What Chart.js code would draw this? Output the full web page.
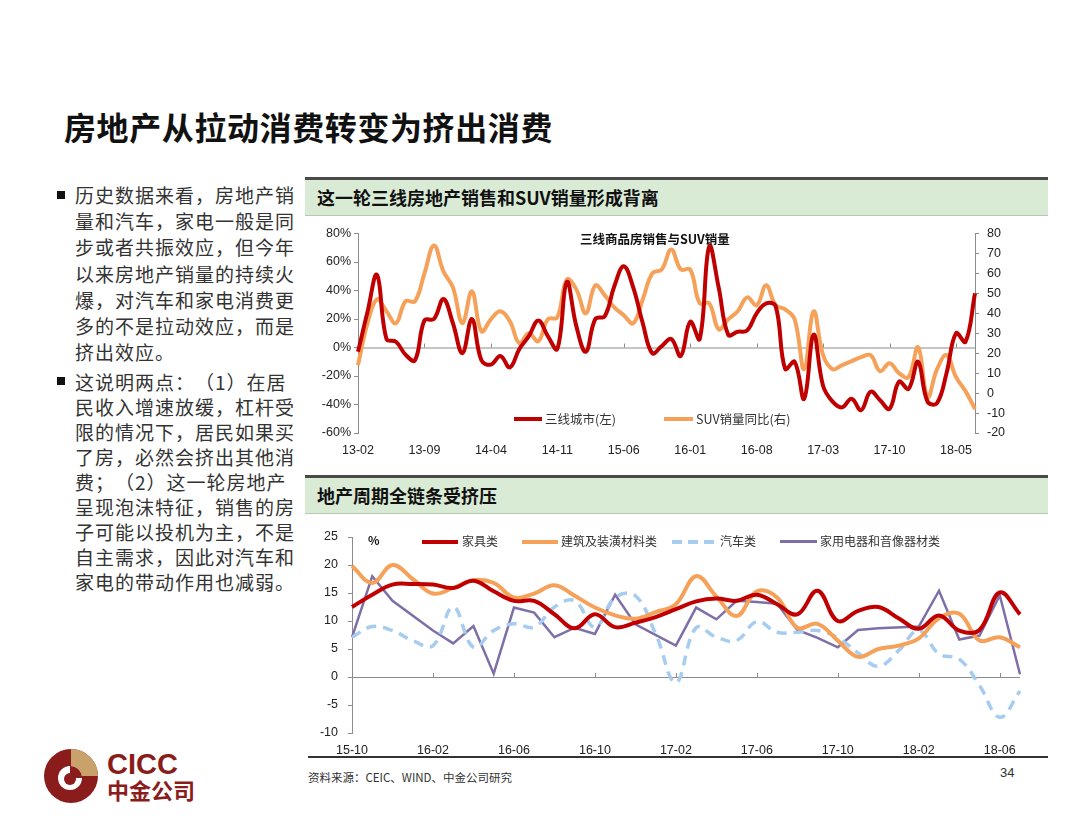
<!DOCTYPE html>
<html lang="zh">
<head>
<meta charset="utf-8">
<title>房地产从拉动消费转变为挤出消费</title>
<script src="https://cdn.jsdelivr.net/npm/chart.js@4.4.1/dist/chart.umd.min.js"></script>
<style>
  html, body { margin: 0; padding: 0; background: #fff; }
  body { width: 1080px; height: 834px; position: relative; overflow: hidden;
         font-family: "Noto Sans CJK SC", sans-serif; color: #222; text-spacing-trim: space-all; }
  .abs { position: absolute; white-space: nowrap; }
  #title { left: 64px; top: 108px; font-size: 32px; line-height: 36px; font-weight: 700; letter-spacing: 0.6px; color: #111; }
  .para { left: 75px; font-size: 19px; letter-spacing: 1px; color: #333; }
  .bullet { width: 8px; height: 8px; background: #111; }
  .bar { left: 305px; width: 743px; height: 39px; box-sizing: border-box; background: #d9ebd5;
         border-top: 3px solid #4a4a4a; border-bottom: 1px solid #b5c8b1;
         padding-left: 12px; font-size: 18px; font-weight: 700; line-height: 35px; color: #111; }
  canvas { position: absolute; }
  .lg { font-size: 12.5px; line-height: 14px; color: #333; }
  .swatch { height: 4px; }
</style>
</head>
<body>

<div id="title" class="abs">房地产从拉动消费转变为挤出消费</div>

<div class="abs bullet" style="left:57px; top:191px;"></div>
<div class="abs para" style="top:182px; line-height:26.2px;">历史数据来看，房地产销<br>量和汽车，家电一般是同<br>步或者共振效应，但今年<br>以来房地产销量的持续火<br>爆，对汽车和家电消费更<br>多的不是拉动效应，而是<br>挤出效应。</div>

<div class="abs bullet" style="left:57px; top:377px;"></div>
<div class="abs para" style="top:368.5px; line-height:25px;">这说明两点：（1）在居<br>民收入增速放缓，杠杆受<br>限的情况下，居民如果买<br>了房，必然会挤出其他消<br>费；（2）这一轮房地产<br>呈现泡沫特征，销售的房<br>子可能以投机为主，不是<br>自主需求，因此对汽车和<br>家电的带动作用也减弱。</div>

<div class="abs bar" style="top:177px;">这一轮三线房地产销售和SUV销量形成背离</div>
<div class="abs bar" style="top:475px;">地产周期全链条受挤压</div>

<canvas id="chart1" width="743" height="244" style="left:305px; top:218px;"></canvas>
<canvas id="chart2" width="743" height="237" style="left:305px; top:518px;"></canvas>

<!-- chart 1 inner title and legend -->
<div class="abs" style="left:580px; top:229px; font-size:12.5px; font-weight:700; color:#111;">三线商品房销售与SUV销量</div>
<div class="abs swatch" style="left:514px; top:417px; width:28px; background:#c00000;"></div>
<div class="abs lg" style="left:545px; top:412px;">三线城市(左)</div>
<div class="abs swatch" style="left:664px; top:417px; width:29px; background:#f6a15a;"></div>
<div class="abs lg" style="left:696px; top:412px;">SUV销量同比(右)</div>

<!-- chart 2 unit and legend -->
<div class="abs" style="left:368px; top:531px; font-size:12px; font-weight:700; color:#111;">%</div>
<div class="abs swatch" style="left:422px; top:540px; width:36px; background:#c00000;"></div>
<div class="abs lg" style="left:462px; top:534px; font-size:12px;">家具类</div>
<div class="abs swatch" style="left:522px; top:540px; width:36px; background:#f6a15a;"></div>
<div class="abs lg" style="left:561px; top:534px; font-size:12px;">建筑及装潢材料类</div>
<div class="abs swatch" style="left:672px; top:540px; width:44px; height:3.5px; background:repeating-linear-gradient(to right, #a6cdef 0 10px, transparent 10px 16px);"></div>
<div class="abs lg" style="left:720px; top:534px; font-size:12px;">汽车类</div>
<div class="abs swatch" style="left:780px; top:540px; width:37px; height:2.5px; background:#7e6fa8;"></div>
<div class="abs lg" style="left:820px; top:534px; font-size:12px;">家用电器和音像器材类</div>

<div class="abs" style="left:308px; top:756px; width:740px; height:2px; background:#333;"></div>
<div class="abs" style="left:308px; top:769px; font-size:11.5px; color:#333;">资料来源：CEIC、WIND、中金公司研究</div>
<div class="abs" style="left:1000px; top:765px; font-size:13px; color:#333; font-family:'Liberation Sans', Arial, sans-serif;">34</div>

<!-- CICC logo -->
<svg class="abs" style="left:43px; top:748px;" width="56" height="56" viewBox="0 0 56 56">
  <circle cx="28" cy="28" r="27" fill="#8b1c1c"/>
  <path d="M28,28 L28,1 A27,27 0 0,1 55,28 Z" fill="#c9a16a"/>
  <circle cx="27" cy="30" r="12" fill="#fff"/>
  <path d="M27,30 L27,18 A12,12 0 0,1 39,30 Z" fill="#8b1c1c"/>
  <circle cx="27" cy="31" r="6" fill="#8b1c1c"/>
</svg>
<div class="abs" style="left:107px; top:750px; font-family:'Liberation Sans', Arial, sans-serif; font-size:29px; line-height:29px; font-weight:700; color:#8b1c1c;">CICC</div>
<div class="abs" style="left:107px; top:777px; font-size:22px; line-height:24px; font-weight:700; color:#8b1c1c;">中金公司</div>

<script>
// ---- chart 1: 三线商品房销售与SUV销量 (monthly, 13-02 .. 18-07)
const months1 = [
  '13-02','13-03','13-04','13-05','13-06','13-07','13-08','13-09','13-10','13-11','13-12',
  '14-01','14-02','14-03','14-04','14-05','14-06','14-07','14-08','14-09','14-10','14-11','14-12',
  '15-01','15-02','15-03','15-04','15-05','15-06','15-07','15-08','15-09','15-10','15-11','15-12',
  '16-01','16-02','16-03','16-04','16-05','16-06','16-07','16-08','16-09','16-10','16-11','16-12',
  '17-01','17-02','17-03','17-04','17-05','17-06','17-07','17-08','17-09','17-10','17-11','17-12',
  '18-01','18-02','18-03','18-04','18-05','18-06','18-07'
];
// 三线城市 (left axis, %)
const tier3Sales = [
  -3, 25, 51, 6, 4, -5, -9, 19, 20, 34, 17,
  -4, 20, -9, -12, -6, -14, -1, 8, 19, 8, -1, 46,
  15, -3, 20, 22, 43, 57, 42, 17, -4, 1, 6, -6,
  18, 6, 71, 42, 9, 11, 12, 24, 31, 29, -15, -10,
  -36, 9, -27, -38, -42, -36, -44, -31, -37, -43, -24, -29,
  -10, -38, -39, -18, 10, 4, 38
];
// SUV销量同比 (right axis)
const suvSales = [
  14, 35, 47, 41, 35, 46, 46, 60, 74, 61, 53,
  35, 51, 31, 37, 41, 36, 25, 30, 26, 37, 38, 57,
  52, 40, 54, 49, 43, 39, 35, 47, 60, 62, 72, 62,
  62, 45, 45, 32, 37, 41, 48, 44, 54, 44, 42, 37,
  12, 41, 19, 12, 14, 16, 18, 19, 11, 15, 10, 8,
  23, -2, 12, 19, 8, 1, -8
];

// ---- chart 2: 地产周期全链条受挤压 (monthly, 15-10 .. 18-07)
const months2 = [
  '15-10','15-11','15-12',
  '16-01','16-02','16-03','16-04','16-05','16-06','16-07','16-08','16-09','16-10','16-11','16-12',
  '17-01','17-02','17-03','17-04','17-05','17-06','17-07','17-08','17-09','17-10','17-11','17-12',
  '18-01','18-02','18-03','18-04','18-05','18-06','18-07'
];
const furniture  = [12.5, 14.7, 16.5, 16.6, 16.5, 15.9, 17.2, 15.3, 13.6, 13.6, 11.2, 8.7, 11.2, 8.9, 9.7, 10.7, 12.1, 13.5, 14.0, 13.6, 14.7, 13.0, 11.2, 15.4, 10.0, 11.8, 12.5, 10.5, 8.6, 11.0, 8.3, 8.4, 15.1, 11.2];
const building   = [19.8, 16.8, 20.0, 17.5, 14.9, 15.9, 17.3, 16.8, 14.2, 14.9, 16.4, 14.5, 12.4, 11.0, 10.4, 11.6, 13.0, 18.0, 14.4, 10.9, 15.3, 14.2, 8.8, 9.5, 6.5, 3.6, 5.0, 5.6, 6.9, 10.5, 11.3, 6.5, 7.1, 5.3];
const autos      = [7.1, 9.0, 8.3, 6.5, 5.6, 12.5, 5.3, 8.3, 9.5, 8.9, 12.5, 13.6, 8.9, 14.2, 14.5, 7.7, -1.0, 8.8, 7.1, 6.5, 9.9, 8.0, 8.0, 8.3, 7.0, 4.3, 1.9, 4.7, 8.3, 4.1, 3.2, -1.5, -7.2, -2.5];
const appliances = [7.1, 18.0, 13.6, null, 8.3, 6.0, 9.1, 0.6, 12.4, 11.5, 7.1, 8.8, 7.7, 14.7, 9.4, null, 5.6, 12.4, 10.3, 13.6, 13.4, 13.1, 8.4, 7.0, 5.3, 8.4, 8.7, null, 9.0, 15.4, 6.7, 7.4, 14.6, 0.5];

const TICK_FONT = { family: '"Liberation Sans", Arial, sans-serif', size: 12.5 };
const TICK_COLOR = '#222';
const AXIS_COLOR = '#8c8c8c';

// horizontal zero line with small tick marks at the labelled months
const zeroLine = {
  id: 'zeroLine',
  beforeDatasetsDraw(chart, args, opts) {
    const { ctx, chartArea, scales } = chart;
    const y0 = scales[opts.axis].getPixelForValue(0);
    ctx.save();
    ctx.strokeStyle = AXIS_COLOR;
    ctx.lineWidth = 1;
    ctx.beginPath();
    ctx.moveTo(chartArea.left, y0 + 0.5);
    ctx.lineTo(chartArea.right, y0 + 0.5);
    scales.x.ticks.forEach((t, i) => {
      if (i > 0 && i % opts.every === 0) {
        const x = Math.round(scales.x.getPixelForTick(i)) + 0.5;
        ctx.moveTo(x, y0);
        ctx.lineTo(x, y0 - 4);
      }
    });
    ctx.stroke();
    ctx.restore();
  }
};

function xAxis(labels, every, height, padding) {
  return {
    grid: { display: false },
    border: { display: false },
    ticks: {
      autoSkip: false, maxRotation: 0, minRotation: 0, padding: padding,
      font: TICK_FONT, color: TICK_COLOR,
      callback: (v, i) => (i % every === 0 ? labels[i] : '')
    },
    afterFit: s => { s.height = height; }
  };
}

function yAxis(position, min, max, step, width, padding, fmt) {
  return {
    position: position, min: min, max: max,
    ticks: { stepSize: step, padding: padding, font: TICK_FONT, color: TICK_COLOR, callback: fmt },
    grid: { drawOnChartArea: false, tickLength: 4, color: AXIS_COLOR },
    border: { color: AXIS_COLOR },
    afterFit: s => { s.width = width; }
  };
}

new Chart(document.getElementById('chart1'), {
  type: 'line',
  data: {
    labels: months1,
    datasets: [
      { label: '三线城市(左)', data: tier3Sales, yAxisID: 'yL', borderColor: '#c00000',
        borderWidth: 4, pointRadius: 0, tension: 0.4 },
      { label: 'SUV销量同比(右)', data: suvSales, yAxisID: 'yR', borderColor: '#f6a15a',
        borderWidth: 4, pointRadius: 0, tension: 0.4 }
    ]
  },
  options: {
    responsive: false, animation: false, devicePixelRatio: 1,
    layout: { padding: { top: 12, right: 0, bottom: 0, left: 0 } },
    plugins: { legend: { display: false }, tooltip: { enabled: false }, zeroLine: { axis: 'yL', every: 7 } },
    scales: {
      x: xAxis(months1, 7, 29, 2),
      yL: yAxis('left', -60, 80, 20, 53, 3, v => v + '%'),
      yR: yAxis('right', -20, 80, 10, 73, 8, v => v)
    }
  },
  plugins: [zeroLine]
});

new Chart(document.getElementById('chart2'), {
  type: 'line',
  data: {
    labels: months2,
    datasets: [
      { label: '家具类', data: furniture, borderColor: '#c00000', borderWidth: 4, pointRadius: 0, tension: 0.4 },
      { label: '建筑及装潢材料类', data: building, borderColor: '#f6a15a', borderWidth: 4, pointRadius: 0, tension: 0.4 },
      { label: '汽车类', data: autos, borderColor: '#a6cdef', borderWidth: 3.5, borderDash: [10, 7],
        pointRadius: 0, tension: 0.4 },
      { label: '家用电器和音像器材类', data: appliances, borderColor: '#7e6fa8', borderWidth: 2.5,
        pointRadius: 0, tension: 0, spanGaps: true }
    ]
  },
  options: {
    responsive: false, animation: false, devicePixelRatio: 1,
    layout: { padding: { top: 19, right: 28, bottom: 0, left: 0 } },
    plugins: { legend: { display: false }, tooltip: { enabled: false }, zeroLine: { axis: 'y', every: 4 } },
    scales: {
      x: xAxis(months2, 4, 22, 2),
      y: yAxis('left', -10, 25, 5, 47, 10, v => v)
    }
  },
  plugins: [zeroLine]
});
</script>
</body>
</html>
